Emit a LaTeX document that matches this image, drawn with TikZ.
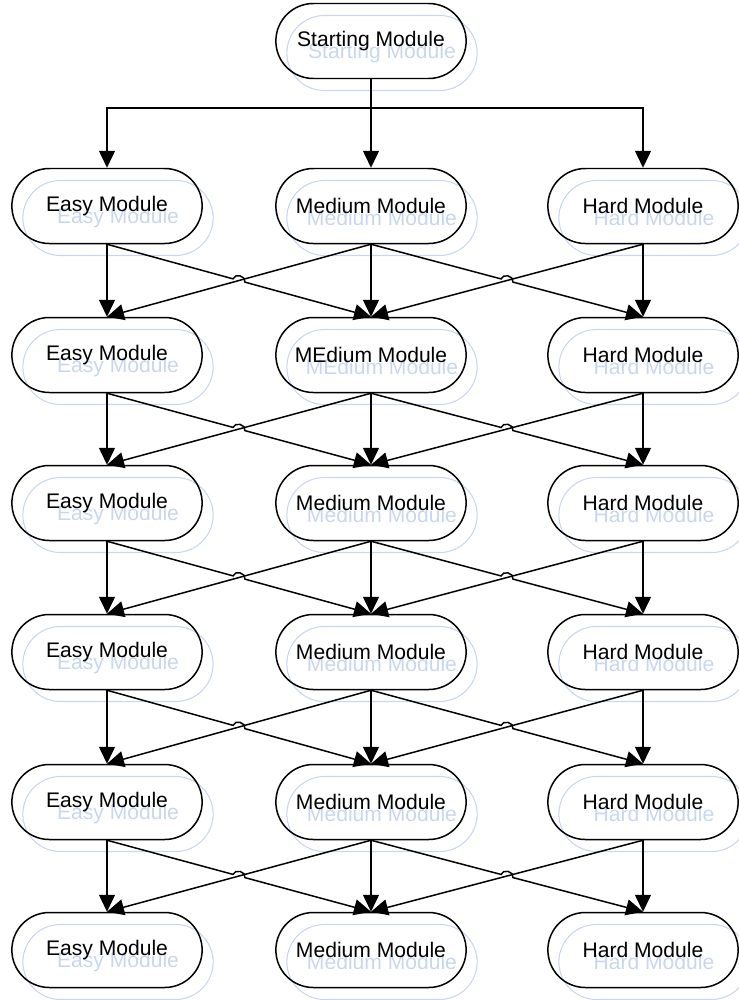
\documentclass[tikz,border=0pt]{standalone}
\usepackage{fontspec}
\setmainfont{Liberation Sans}
\usetikzlibrary{shapes.misc,arrows.meta,calc}
\definecolor{ghostblue}{RGB}{200,214,238}
% a module box with its pale copy behind it
\newcommand{\module}[4]{%
  \node[ghost] (#1g) at (#2+11,#3+12) {#4};
  \node[module] (#1) at (#2,#3) {#4};}
\begin{document}
\begin{tikzpicture}[x=0.2mm, y=-0.2mm,
  module/.style={rounded rectangle, draw, line width=0.85pt, minimum width=40.4mm, minimum height=15mm, font=\fontsize{12}{14}\selectfont},
  ghost/.style={module, draw=ghostblue, line width=0.6pt, text=ghostblue},
  arrow/.style={line width=0.85pt, -{Triangle[length=3.4mm,width=3.2mm]}},
  hop/.style={bend left=90, looseness=1.3}]
	\useasboundingbox (0,0) rectangle (739,1000);

	\module{start}{371}{41}{Starting Module}

	\module{e2}{107}{206}{Easy Module}
	\module{m2}{371}{206}{Medium Module}
	\module{h2}{643}{206}{Hard Module}

	\module{e3}{107}{355}{Easy Module}
	\module{m3}{371}{355}{MEdium Module}
	\module{h3}{643}{355}{Hard Module}

	\module{e4}{107}{503}{Easy Module}
	\module{m4}{371}{503}{Medium Module}
	\module{h4}{643}{503}{Hard Module}

	\module{e5}{107}{652}{Easy Module}
	\module{m5}{371}{652}{Medium Module}
	\module{h5}{643}{652}{Hard Module}

	\module{e6}{107}{802}{Easy Module}
	\module{m6}{371}{802}{Medium Module}
	\module{h6}{643}{802}{Hard Module}

	\module{e7}{107}{950}{Easy Module}
	\module{m7}{371}{950}{Medium Module}
	\module{h7}{643}{950}{Hard Module}

	% split below the start
	\coordinate (split) at (371,108);
	\draw[line width=0.85pt] (start.south) -- (split);
	\draw[arrow] (split) -| (e2.north);
	\draw[arrow] (split) -- (m2.north);
	\draw[arrow] (split) -| (h2.north);

	\foreach \r [evaluate=\r as \n using int(\r+1)] in {2,...,6} {
		\draw[arrow] (e\r.south) -- (e\n.north);
		\draw[arrow] (m\r.south) -- (m\n.north);
		\draw[arrow] (h\r.south) -- (h\n.north);
		\draw[arrow] (m\r.south) -- (e\n.north);
		\draw[arrow] (h\r.south) -- (m\n.north);
		\draw[arrow] (e\r.south) -- ($(e\r.south)!0.5!(m\n.north)!3.5pt!(e\r.south)$)
			to[hop] ($(e\r.south)!0.5!(m\n.north)!3.5pt!(m\n.north)$) -- (m\n.north);
		\draw[arrow] (m\r.south) -- ($(m\r.south)!0.5!(h\n.north)!3.5pt!(m\r.south)$)
			to[hop] ($(m\r.south)!0.5!(h\n.north)!3.5pt!(h\n.north)$) -- (h\n.north);
	}
\end{tikzpicture}
\end{document}
